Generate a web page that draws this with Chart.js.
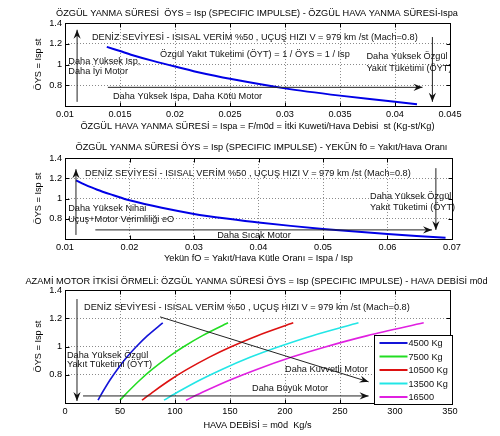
<!DOCTYPE html>
<html><head><meta charset="utf-8">
<script src="https://cdn.jsdelivr.net/npm/chart.js@4"></script>
<style>
html,body{margin:0;padding:0;background:#fff;width:500px;height:436px;overflow:hidden}
canvas{position:absolute;left:0}
</style></head><body>
<canvas id="c1" width="500" height="137" style="top:0px"></canvas>
<canvas id="c2" width="500" height="133" style="top:137px"></canvas>
<canvas id="c3" width="500" height="166" style="top:270px"></canvas>
<script>
// ---------- DATA ----------
// Plot 1: Isp vs Ispa
const ispaValues = [0.0138, 0.015, 0.016, 0.018, 0.02, 0.022, 0.025, 0.03, 0.035, 0.04, 0.042];
const ispValues1 = [1.17, 1.13, 1.095, 1.035, 0.98, 0.928, 0.862, 0.77, 0.70, 0.64, 0.617];
// Plot 2: Isp vs f0
const f0Values   = [0.0117, 0.013, 0.015, 0.0175, 0.02, 0.025, 0.03, 0.035, 0.04, 0.05, 0.06, 0.069];
const ispValues2 = [1.18, 1.14, 1.087, 1.033, 0.982, 0.908, 0.848, 0.802, 0.762, 0.70, 0.65, 0.612];
// Plot 3: Isp vs air flow m0d for several thrusts
const thrustLabels = ['4500 Kg', '7500 Kg', '10500 Kg', '13500 Kg', '16500'];
const airflow4500  = [30, 34.6, 40.9, 47.4, 56.3, 64.3, 75, 88.9];
const airflow7500  = [50, 57.7, 68.2, 78.9, 93.8, 107.1, 125, 148.2];
const airflow10500 = [70, 80.8, 95.5, 110.5, 131.3, 150, 175, 207.5];
const airflow13500 = [90, 103.8, 122.7, 142.1, 168.8, 192.9, 225, 266.8];
const airflow16500 = [110, 126.9, 150, 173.7, 206.3, 235.7, 275, 326.1];
const ispValues3   = [0.62, 0.683, 0.763, 0.836, 0.925, 0.995, 1.077, 1.168];
// Tick values / labels
const xTicks1 = [0.01, 0.015, 0.02, 0.025, 0.03, 0.035, 0.04, 0.045];
const xTickLabels1 = ['0.01', '0.015', '0.02', '0.025', '0.03', '0.035', '0.04', '0.045'];
const xTicks2 = [0.01, 0.02, 0.03, 0.04, 0.05, 0.06, 0.07];
const xTickLabels2 = ['0.01', '0.02', '0.03', '0.04', '0.05', '0.06', '0.07'];
const xTicks3 = [0, 50, 100, 150, 200, 250, 300, 350];
const xTickLabels3 = ['0', '50', '100', '150', '200', '250', '300', '350'];
const yTicks = [0.8, 1, 1.2, 1.4];
const yTickLabels = ['0.8', '1', '1.2', '1.4'];

// ---------- STYLE ----------
const FONT = '"Liberation Sans", Arial, Helvetica, sans-serif';
const FS = 9.2;
Chart.defaults.font.family = FONT;
Chart.defaults.font.size = FS;
Chart.defaults.color = '#000';

function pts(xs, ys) { return xs.map((x, i) => ({x: x, y: ys[i]})); }

const headerText = 'DENİZ SEVİYESİ - ISISAL VERİM %50 , UÇUŞ HIZI V = 979 km /st (Mach=0.8)';

function arrowHead(ctx, x1, y1, x2, y2) {
  const a = Math.atan2(y2 - y1, x2 - x1);
  const L = 9, W = 3.6, N = 6;
  ctx.save();
  ctx.translate(x2, y2); ctx.rotate(a);
  ctx.beginPath();
  ctx.moveTo(0, 0); ctx.lineTo(-L, -W); ctx.lineTo(-N, 0); ctx.lineTo(-L, W); ctx.closePath();
  ctx.fill();
  ctx.restore();
}

const framePlugin = {
  id: 'matlabFrame',
  afterDraw(chart, args, opts) {
    const ctx = chart.ctx, ca = chart.chartArea;
    const xs = chart.scales.x, ys = chart.scales.y;
    ctx.save();
    // annotations
    ctx.strokeStyle = '#222'; ctx.fillStyle = '#111'; ctx.lineWidth = 1;
    (opts.lines || []).forEach(l => {
      const x1 = xs.getPixelForValue(l.from[0]), y1 = ys.getPixelForValue(l.from[1]);
      const x2 = xs.getPixelForValue(l.to[0]),   y2 = ys.getPixelForValue(l.to[1]);
      ctx.beginPath(); ctx.moveTo(x1, y1); ctx.lineTo(x2, y2); ctx.stroke();
      if (l.arrow) arrowHead(ctx, x1, y1, x2, y2);
    });
    ctx.font = FS + 'px ' + FONT; ctx.textBaseline = 'middle'; ctx.textAlign = 'left';
    ctx.fillStyle = '#111';
    (opts.texts || []).forEach(t => {
      ctx.fillText(t.text, xs.getPixelForValue(t.at[0]), ys.getPixelForValue(t.at[1]));
    });
    // box
    ctx.strokeStyle = '#000'; ctx.lineWidth = 1;
    const L = Math.round(ca.left) + 0.5, R = Math.round(ca.right) + 0.5;
    const T = Math.round(ca.top) + 0.5, B = Math.round(ca.bottom) + 0.5;
    ctx.strokeRect(L, T, R - L, B - T);
    // inward ticks
    ctx.beginPath();
    xs.ticks.forEach(t => {
      const x = Math.round(xs.getPixelForValue(t.value)) + 0.5;
      ctx.moveTo(x, B); ctx.lineTo(x, B - 4);
      ctx.moveTo(x, T); ctx.lineTo(x, T + 4);
    });
    ys.ticks.forEach(t => {
      const y = Math.round(ys.getPixelForValue(t.value)) + 0.5;
      ctx.moveTo(L, y); ctx.lineTo(L + 4, y);
      ctx.moveTo(R, y); ctx.lineTo(R - 4, y);
    });
    ctx.stroke();
    // legend
    if (opts.legend) {
      const lw = 78, lh = 69;
      const bx = Math.round(ca.right) + 2 - lw + 0.5, by = Math.round(ca.bottom) + 1 - lh + 0.5;
      ctx.fillStyle = '#fff'; ctx.fillRect(bx, by, lw, lh);
      ctx.strokeStyle = '#000'; ctx.strokeRect(bx, by, lw, lh);
      chart.data.datasets.forEach((ds, i) => {
        const yy = by + 7.5 + i * 13.5;
        ctx.strokeStyle = ds.borderColor; ctx.lineWidth = 2;
        ctx.beginPath(); ctx.moveTo(bx + 5, yy); ctx.lineTo(bx + 33, yy); ctx.stroke();
        ctx.fillStyle = '#111';
        ctx.fillText(ds.label, bx + 34, yy + 0.5);
      });
    }
    ctx.restore();
  }
};

function makeOptions(cfg) {
  const yW = 65 - cfg.padLeft;
  return {
    responsive: false, animation: false, devicePixelRatio: 1,
    layout: {padding: {left: cfg.padLeft, right: 0, top: 0, bottom: 0}},
    plugins: {
      legend: {display: false}, tooltip: {enabled: false},
      title: {display: true, text: cfg.title, fullSize: true, color: '#000',
              font: {size: FS, weight: 'normal', family: FONT},
              padding: {top: cfg.titleTop, bottom: cfg.titleBottom}},
      matlabFrame: {lines: cfg.lines, texts: cfg.texts, legend: cfg.legend}
    },
    scales: {
      x: {
        type: 'linear', min: cfg.xTicks[0], max: cfg.xTicks[cfg.xTicks.length - 1],
        afterBuildTicks: s => { s.ticks = cfg.xTicks.map(v => ({value: v})); },
        afterFit: s => { s.height = cfg.xHeight; },
        ticks: {autoSkip: false, maxRotation: 0, padding: 2.5, color: '#000', font: {size: FS},
                callback: (v, i) => cfg.xLabels[i]},
        grid: {color: '#8a8a8a', lineWidth: 1, drawTicks: false},
        border: {display: false, dash: [1, 2]},
        title: {display: true, text: cfg.xTitle, color: '#000', font: {size: FS},
                padding: {top: 0, bottom: cfg.xTitleBottom}}
      },
      y: {
        type: 'linear', min: 0.6, max: 1.4,
        afterBuildTicks: s => { s.ticks = yTicks.map(v => ({value: v})); },
        afterFit: s => { s.width = yW; },
        ticks: {padding: 3, color: '#000', font: {size: FS},
                callback: (v, i) => yTickLabels[i]},
        grid: {color: '#8a8a8a', lineWidth: 1, drawTicks: false},
        border: {display: false, dash: [1, 2]},
        title: {display: true, text: 'ÖYS = Isp st', color: '#000', font: {size: FS},
                padding: {top: 32.5 - cfg.padLeft, bottom: 0}}
      },
      yRightSpace: {
        type: 'linear', position: 'right', display: true,
        afterFit: s => { s.width = cfg.rightSpace; },
        grid: {display: false, drawTicks: false}, border: {display: false},
        ticks: {display: false}
      }
    }
  };
}

// ---------- CHART 1 ----------
new Chart(document.getElementById('c1'), {
  type: 'scatter',
  data: {datasets: [{data: pts(ispaValues, ispValues1), showLine: true, borderColor: '#0000e6',
    borderWidth: 2, pointRadius: 0, tension: 0.3, fill: false}]},
  options: makeOptions({
    title: 'ÖZGÜL YANMA SÜRESİ  ÖYS = Isp (SPECIFIC IMPULSE) - ÖZGÜL HAVA YANMA SÜRESİ-Ispa',
    titleTop: 7.5, titleBottom: 4.5, padLeft: 14, rightSpace: 50, xHeight: 31, xTitleBottom: 5.5,
    xTicks: xTicks1, xLabels: xTickLabels1,
    xTitle: 'ÖZGÜL HAVA YANMA SÜRESİ = Ispa = F/m0d = İtki Kuweti/Hava Debisi  st (Kg-st/Kg)',
    lines: [
      {from: [0.0111, 0.64], to: [0.0111, 1.335], arrow: true},
      {from: [0.0139, 0.78], to: [0.0425, 0.78], arrow: true},
      {from: [0.0434, 1.265], to: [0.0434, 0.64], arrow: true}
    ],
    texts: [
      {text: headerText, at: [0.01245, 1.265]},
      {text: 'Özgül Yakıt Tüketimi (ÖYT) = 1 / ÖYS = 1 / Isp', at: [0.01864, 1.10]},
      {text: 'Daha Yüksek Isp,', at: [0.0103, 1.03]},
      {text: 'Daha İyi Motor', at: [0.0103, 0.935]},
      {text: 'Daha Yüksek Ispa, Daha Kötü Motor', at: [0.01436, 0.69]},
      {text: 'Daha Yüksek Özgül', at: [0.0374, 1.075]},
      {text: 'Yakıt Tüketimi (ÖYT)', at: [0.0374, 0.963]}
    ]
  }),
  plugins: [framePlugin]
});

// ---------- CHART 2 ----------
new Chart(document.getElementById('c2'), {
  type: 'scatter',
  data: {datasets: [{data: pts(f0Values, ispValues2), showLine: true, borderColor: '#0000e6',
    borderWidth: 2, pointRadius: 0, tension: 0.3, fill: false}]},
  options: makeOptions({
    title: 'ÖZGÜL YANMA SÜRESİ ÖYS = Isp (SPECIFIC IMPULSE) - YEKÜN f0 = Yakıt/Hava Oranı',
    titleTop: 4.5, titleBottom: 5.5, padLeft: 23, rightSpace: 48, xHeight: 31, xTitleBottom: 6.5,
    xTicks: xTicks2, xLabels: xTickLabels2,
    xTitle: 'Yekün fO = Yakıt/Hava Kütle Oranı = Ispa / Isp',
    lines: [
      {from: [0.0117, 0.64], to: [0.0117, 1.29], arrow: true},
      {from: [0.0147, 0.69], to: [0.0669, 0.69], arrow: true},
      {from: [0.0675, 1.30], to: [0.0675, 0.69], arrow: true}
    ],
    texts: [
      {text: headerText, at: [0.0131, 1.25]},
      {text: 'Daha Yüksek Nihai', at: [0.0105, 0.906]},
      {text: 'Uçuş+Motor Verimliliği eO', at: [0.0105, 0.79]},
      {text: 'Daha Sıcak Motor', at: [0.0336, 0.635]},
      {text: 'Daha Yüksek Özgül', at: [0.0573, 1.02]},
      {text: 'Yakıt Tüketimi (ÖYT)', at: [0.0573, 0.91]}
    ]
  }),
  plugins: [framePlugin]
});

// ---------- CHART 3 ----------
const colors3 = ['#1414d8', '#22dd22', '#dd1111', '#22e6e6', '#e020e0'];
const flows3 = [airflow4500, airflow7500, airflow10500, airflow13500, airflow16500];
new Chart(document.getElementById('c3'), {
  type: 'scatter',
  data: {datasets: flows3.map((f, i) => ({label: thrustLabels[i], data: pts(f, ispValues3),
    showLine: true, borderColor: colors3[i], borderWidth: 1.6, pointRadius: 0, tension: 0.3, fill: false}))},
  options: makeOptions({
    title: 'AZAMİ MOTOR İTKİSİ ÖRMELİ: ÖZGÜL YANMA SÜRESİ ÖYS = Isp (SPECIFIC IMPULSE) - HAVA DEBİSİ m0d',
    titleTop: 5.5, titleBottom: 3.5, padLeft: 13, rightSpace: 50, xHeight: 33, xTitleBottom: 5.5,
    xTicks: xTicks3, xLabels: xTickLabels3,
    xTitle: 'HAVA DEBİSİ = m0d  Kg/s',
    legend: true,
    lines: [
      {from: [10.9, 1.336], to: [10.9, 0.614], arrow: true},
      {from: [16.4, 0.65], to: [276, 0.65], arrow: true},
      {from: [86.4, 1.21], to: [276, 0.75], arrow: true}
    ],
    texts: [
      {text: headerText, at: [17.3, 1.28]},
      {text: 'Daha Yüksek Özgül', at: [1.8, 0.94]},
      {text: 'Yakıt Tüketimi (ÖYT)', at: [1.8, 0.87]},
      {text: 'Daha Büyük Motor', at: [170, 0.70]},
      {text: 'Daha Kuvvetli Motor', at: [200, 0.84]}
    ]
  }),
  plugins: [framePlugin]
});
</script>
</body></html>
